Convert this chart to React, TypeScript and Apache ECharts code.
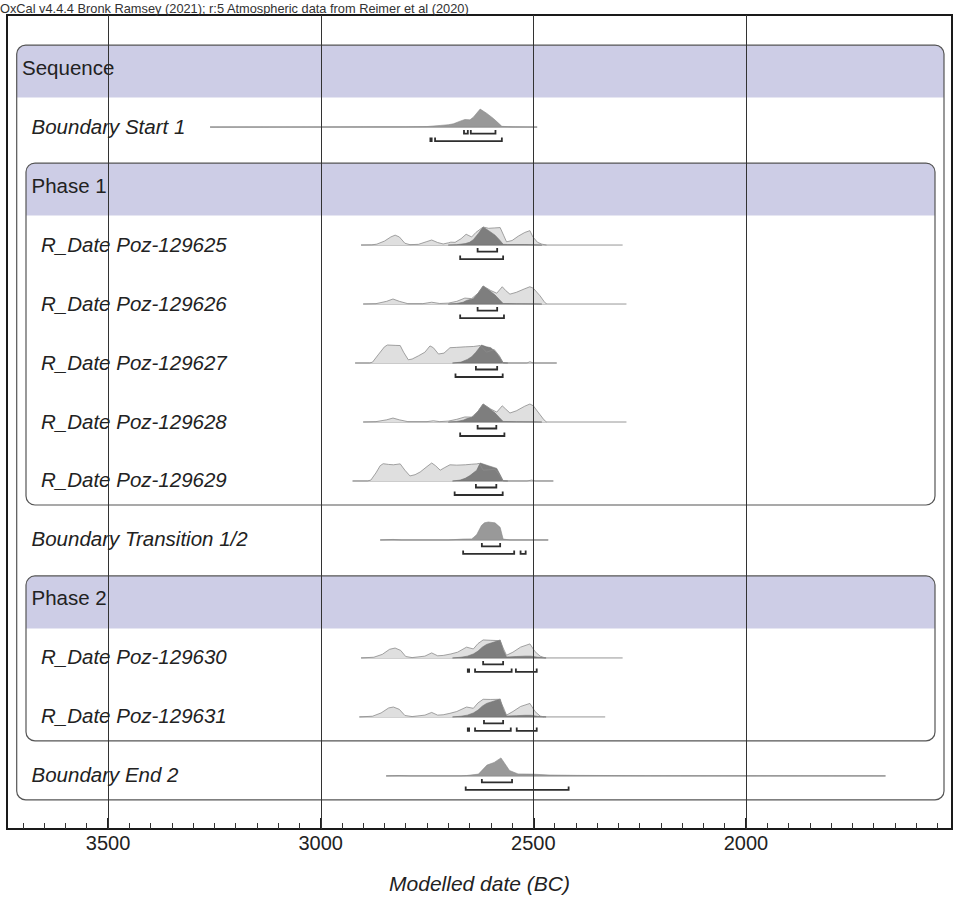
import React, { useEffect, useRef } from "react";
import * as echarts from "echarts";

const headerText = "OxCal v4.4.4 Bronk Ramsey (2021); r:5 Atmospheric data from Reimer et al (2020)";
const axisTitle = "Modelled date (BC)";
const majorTicks = [3500, 3000, 2500, 2000];
const minorTicks: number[] = [];
for (let v = 1550; v <= 3700; v += 50) minorTicks.push(v);

const rowLabels = [
  "Sequence",
  "Boundary Start 1",
  "Phase 1",
  "R_Date Poz-129625",
  "R_Date Poz-129626",
  "R_Date Poz-129627",
  "R_Date Poz-129628",
  "R_Date Poz-129629",
  "Boundary Transition 1/2",
  "Phase 2",
  "R_Date Poz-129630",
  "R_Date Poz-129631",
  "Boundary End 2",
];
const rowDepth = [0, 1, 1, 2, 2, 2, 2, 2, 1, 1, 2, 2, 1];
const rowKind = ["group", "boundary", "group", "date", "date", "date", "date", "date", "boundary", "group", "date", "date", "boundary"];

// group boxes: [first row, last row, depth]
const groupSpans = [
  [0, 12, 0],
  [2, 7, 1],
  [9, 11, 1],
];

// distributions: [year BC, relative height]
const start1Posterior = [[3260,0],[3120,0.006],[3000,0.01],[2900,0.012],[2800,0.015],[2750,0.03],[2719,0.09],[2700,0.13],[2688,0.18],[2672,0.33],[2661,0.42],[2649,0.4],[2641,0.55],[2625,1.0],[2610,0.77],[2594,0.48],[2582,0.22],[2574,0.04],[2550,0.015],[2491,0]];
const poz129625Prior = [[2905,0],[2880,0.01],[2868,0.05],[2850,0.22],[2835,0.45],[2825,0.55],[2815,0.45],[2802,0.1],[2790,0.02],[2770,0.04],[2752,0.18],[2739,0.28],[2725,0.14],[2712,0.06],[2700,0.12],[2694,0.16],[2684,0.15],[2670,0.35],[2658,0.6],[2645,0.45],[2635,0.7],[2618,1.0],[2605,0.93],[2592,0.95],[2578,0.97],[2570,0.55],[2563,0.18],[2550,0.25],[2535,0.5],[2520,0.7],[2508,0.8],[2501,0.45],[2490,0.15],[2480,0.05],[2469,0]];
const poz129625Posterior = [[2700,0],[2680,0.02],[2660,0.08],[2650,0.15],[2641,0.3],[2630,0.62],[2618,1.0],[2605,0.8],[2590,0.55],[2580,0.3],[2571,0.04],[2560,0.03],[2520,0.03],[2500,0.02],[2480,0]];
const poz129626Prior = [[2900,0],[2870,0.02],[2845,0.15],[2830,0.28],[2815,0.15],[2795,0.02],[2760,0.02],[2739,0.1],[2720,0.03],[2700,0.05],[2680,0.15],[2661,0.33],[2645,0.3],[2630,0.6],[2618,1.0],[2600,0.75],[2586,0.6],[2573,0.96],[2565,0.75],[2555,0.55],[2540,0.65],[2520,0.85],[2508,0.96],[2500,0.88],[2484,0.45],[2475,0.15],[2469,0]];
const poz129626Posterior = [[2700,0],[2680,0.03],[2665,0.1],[2657,0.2],[2641,0.3],[2630,0.6],[2618,1.0],[2605,0.78],[2590,0.5],[2580,0.25],[2571,0.03],[2540,0.02],[2500,0.01],[2480,0]];
const poz129627Prior = [[2919,0],[2885,0],[2878,0.05],[2865,0.45],[2850,0.9],[2843,1.0],[2825,0.98],[2813,0.97],[2805,0.6],[2794,0.18],[2785,0.22],[2770,0.4],[2755,0.6],[2743,0.95],[2735,0.85],[2723,0.5],[2710,0.55],[2696,0.85],[2680,0.87],[2660,0.9],[2640,0.92],[2625,0.97],[2610,0.6],[2592,0.75],[2580,0.4],[2571,0],[2515,0],[2508,0.07],[2500,0],[2445,0]];
const poz129627Posterior = [[2690,0],[2670,0.05],[2655,0.2],[2645,0.35],[2635,0.6],[2622,1.0],[2610,0.9],[2600,0.85],[2590,0.65],[2580,0.35],[2571,0.02],[2560,0]];
const poz129628Prior = [[2900,0],[2870,0.02],[2845,0.12],[2830,0.22],[2815,0.12],[2795,0.02],[2750,0.02],[2735,0.07],[2720,0.02],[2700,0.05],[2680,0.15],[2661,0.28],[2645,0.27],[2630,0.6],[2618,1.0],[2600,0.72],[2586,0.55],[2573,0.9],[2565,0.72],[2555,0.5],[2540,0.62],[2520,0.88],[2508,1.0],[2500,0.9],[2484,0.4],[2475,0.12],[2469,0]];
const poz129628Posterior = [[2700,0],[2680,0.03],[2665,0.1],[2657,0.18],[2641,0.3],[2630,0.6],[2618,1.0],[2605,0.78],[2590,0.5],[2580,0.25],[2571,0.03],[2540,0.02],[2500,0.01],[2480,0]];
const poz129629Prior = [[2925,0],[2890,0],[2882,0.05],[2870,0.45],[2860,0.85],[2853,0.96],[2840,0.92],[2829,0.9],[2813,0.95],[2802,0.6],[2790,0.28],[2778,0.35],[2766,0.5],[2750,0.8],[2739,1.0],[2730,0.85],[2719,0.6],[2708,0.75],[2696,0.9],[2680,0.88],[2660,0.9],[2645,0.93],[2633,0.95],[2627,0.98],[2618,0.6],[2605,0.62],[2590,0.65],[2580,0.35],[2571,0],[2515,0],[2504,0.05],[2495,0],[2453,0]];
const poz129629Posterior = [[2690,0],[2672,0.05],[2660,0.15],[2649,0.3],[2633,0.6],[2625,1.0],[2606,0.85],[2586,0.7],[2578,0.35],[2571,0.02],[2560,0]];
const transitionPosterior = [[2860,0],[2830,0.03],[2810,0],[2700,0],[2665,0.05],[2645,0.06],[2640,0.15],[2633,0.3],[2622,0.8],[2615,0.95],[2606,1.0],[2590,0.95],[2578,0.7],[2571,0.05],[2555,0],[2465,0]];
const poz129630Prior = [[2905,0],[2875,0.04],[2855,0.2],[2838,0.48],[2825,0.55],[2812,0.42],[2800,0.08],[2785,0.02],[2755,0.1],[2739,0.28],[2725,0.12],[2712,0.14],[2694,0.22],[2678,0.32],[2657,0.6],[2641,0.5],[2630,0.8],[2618,1.0],[2600,0.98],[2578,0.96],[2570,0.5],[2563,0.15],[2548,0.32],[2530,0.6],[2508,0.78],[2496,0.35],[2484,0.1],[2472,0]];
const poz129630Posterior = [[2690,0],[2670,0.04],[2655,0.1],[2641,0.22],[2630,0.38],[2620,0.6],[2610,0.75],[2590,0.9],[2578,1.0],[2570,0.4],[2563,0.05],[2540,0.08],[2520,0.1],[2505,0.1],[2490,0.04],[2470,0]];
const poz129631Prior = [[2909,0],[2878,0.04],[2858,0.22],[2840,0.5],[2829,0.55],[2815,0.42],[2802,0.08],[2785,0.02],[2755,0.1],[2739,0.25],[2725,0.1],[2712,0.12],[2696,0.2],[2680,0.3],[2657,0.55],[2641,0.48],[2630,0.78],[2618,0.98],[2600,0.97],[2580,0.98],[2570,0.5],[2563,0.1],[2548,0.3],[2530,0.58],[2508,0.75],[2496,0.3],[2484,0.05],[2475,0]];
const poz129631Posterior = [[2690,0],[2670,0.04],[2655,0.1],[2641,0.22],[2630,0.38],[2620,0.6],[2610,0.75],[2590,0.9],[2578,1.0],[2570,0.4],[2563,0.05],[2540,0.07],[2520,0.09],[2505,0.09],[2490,0.03],[2470,0]];
const end2Posterior = [[2846,0],[2815,0.02],[2790,0],[2670,0],[2657,0.02],[2629,0.1],[2609,0.6],[2592,0.75],[2576,1.0],[2556,0.3],[2536,0.11],[2503,0.1],[2463,0.05],[2398,0.03],[2236,0.01],[1672,0]];

// baseline extents [from, to]
const start1Span = [3260, 2491];
const poz129625Span = [2905, 2290];
const poz129626Span = [2900, 2281];
const poz129627Span = [2919, 2445];
const poz129628Span = [2900, 2281];
const poz129629Span = [2925, 2453];
const transitionSpan = [2860, 2465];
const poz129630Span = [2905, 2290];
const poz129631Span = [2909, 2331];
const end2Span = [2846, 1672];

// highest posterior density ranges
const start1Range68 = [[2663, 2654], [2647, 2589]];
const start1Range95 = [[2742, 2739], [2731, 2574]];
const poz129625Range68 = [[2631, 2585]];
const poz129625Range95 = [[2672, 2571]];
const poz129626Range68 = [[2631, 2585]];
const poz129626Range95 = [[2672, 2569]];
const poz129627Range68 = [[2635, 2585]];
const poz129627Range95 = [[2683, 2572]];
const poz129628Range68 = [[2631, 2587]];
const poz129628Range95 = [[2672, 2568]];
const poz129629Range68 = [[2635, 2587]];
const poz129629Range95 = [[2685, 2572]];
const transitionRange68 = [[2621, 2578]];
const transitionRange95 = [[2665, 2545], [2530, 2518]];
const poz129630Range68 = [[2618, 2571]];
const poz129630Range95 = [[2654, 2651], [2637, 2551], [2541, 2492]];
const poz129631Range68 = [[2616, 2571]];
const poz129631Range95 = [[2654, 2651], [2637, 2553], [2539, 2492]];
const end2Range68 = [[2621, 2550]];
const end2Range95 = [[2659, 2417]];

type Dist = { row: number; prior: number[][] | null; posterior: number[][]; span: number[]; r68: number[][]; r95: number[][] };
const dists: Dist[] = [
  { row: 1, prior: null, posterior: start1Posterior, span: start1Span, r68: start1Range68, r95: start1Range95 },
  { row: 3, prior: poz129625Prior, posterior: poz129625Posterior, span: poz129625Span, r68: poz129625Range68, r95: poz129625Range95 },
  { row: 4, prior: poz129626Prior, posterior: poz129626Posterior, span: poz129626Span, r68: poz129626Range68, r95: poz129626Range95 },
  { row: 5, prior: poz129627Prior, posterior: poz129627Posterior, span: poz129627Span, r68: poz129627Range68, r95: poz129627Range95 },
  { row: 6, prior: poz129628Prior, posterior: poz129628Posterior, span: poz129628Span, r68: poz129628Range68, r95: poz129628Range95 },
  { row: 7, prior: poz129629Prior, posterior: poz129629Posterior, span: poz129629Span, r68: poz129629Range68, r95: poz129629Range95 },
  { row: 8, prior: null, posterior: transitionPosterior, span: transitionSpan, r68: transitionRange68, r95: transitionRange95 },
  { row: 10, prior: poz129630Prior, posterior: poz129630Posterior, span: poz129630Span, r68: poz129630Range68, r95: poz129630Range95 },
  { row: 11, prior: poz129631Prior, posterior: poz129631Posterior, span: poz129631Span, r68: poz129631Range68, r95: poz129631Range95 },
  { row: 12, prior: null, posterior: end2Posterior, span: end2Span, r68: end2Range68, r95: end2Range95 },
];

const FONT = '"Liberation Sans", Arial, Helvetica, sans-serif';
const PEAK = 18;

export default function App() {
  const ref = useRef<HTMLDivElement>(null);
  useEffect(() => {
    if (!ref.current) return;
    const chart = echarts.init(ref.current, null, { renderer: "svg" });

    const boxSeries = {
      type: "custom",
      z: 1,
      silent: true,
      data: groupSpans.map((g) => [g[0], g[1], g[2]]),
      renderItem: (params: any, api: any) => {
        const cs = params.coordSys;
        const s = api.value(0), e = api.value(1), d = api.value(2);
        const left = cs.x + (d === 0 ? 9.7 : 19);
        const right = cs.x + cs.width - (d === 0 ? 8 : 17);
        const yS = api.coord([3000, s])[1];
        const yE = api.coord([3000, e])[1];
        const top = yS - 23;
        const bottom = yE + 24;
        const hb = yS + 29.5;
        const r = 9;
        return {
          type: "group",
          children: [
            { type: "rect", shape: { x: left, y: top, width: right - left, height: bottom - top, r }, style: { fill: "#ffffff" } },
            { type: "rect", shape: { x: left, y: top, width: right - left, height: hb - top, r: [r, r, 0, 0] }, style: { fill: "#cdcde6" } },
            { type: "rect", shape: { x: left, y: top, width: right - left, height: bottom - top, r }, style: { fill: "none", stroke: "#555", lineWidth: 1.2 } },
          ],
        };
      },
    };

    const distSeries = {
      type: "custom",
      z: 2,
      silent: true,
      data: dists.map((d, i) => [d.span[0], d.row, i]),
      renderItem: (params: any, api: any) => {
        const d = dists[api.value(2)];
        const row = d.row;
        const toPts = (arr: number[][]) =>
          arr.map(([yr, h]) => {
            const p = api.coord([yr, row]);
            return [p[0], p[1] - h * PEAK];
          });
        const base0 = api.coord([d.span[0], row]);
        const base1 = api.coord([d.span[1], row]);
        const children: any[] = [];
        children.push({ type: "line", shape: { x1: base0[0], y1: base0[1], x2: base1[0], y2: base1[1] }, style: { stroke: "#8a8a8a", lineWidth: 0.9 } });
        if (d.prior) {
          children.push({ type: "polygon", shape: { points: toPts(d.prior) }, style: { fill: "#dfdfdf", stroke: "none" } });
        }
        const isBoundary = d.prior === null;
        children.push({ type: "polygon", shape: { points: toPts(d.posterior) }, style: { fill: isBoundary ? "#999999" : "#7e7e7e", stroke: isBoundary ? "#8a8a8a" : "#6e6e6e", lineWidth: 0.6 } });
        if (d.prior) {
          children.push({ type: "polyline", shape: { points: toPts(d.prior) }, style: { fill: "none", stroke: "#8c8c8c", lineWidth: 0.8 } });
        }
        const bracket = (ranges: number[][], off: number) => {
          ranges.forEach(([a, b]) => {
            const pa = api.coord([a, row]);
            const pb = api.coord([b, row]);
            const y = pa[1] + off;
            children.push({
              type: "polyline",
              shape: { points: [[pa[0], y - 3.5], [pa[0], y], [pb[0], y], [pb[0], y - 3.5]] },
              style: { fill: "none", stroke: "#2e2e2e", lineWidth: 1.8 },
            });
          });
        };
        bracket(d.r68, 6.5);
        bracket(d.r95, 14);
        return { type: "group", children };
      },
    };

    const gridLineSeries = {
      type: "custom",
      z: 3,
      silent: true,
      data: majorTicks.map((v) => [v, 0]),
      renderItem: (params: any, api: any) => {
        const cs = params.coordSys;
        const x = Math.round(api.coord([api.value(0), 0])[0]) + 0.5;
        return { type: "line", shape: { x1: x, y1: cs.y, x2: x, y2: cs.y + cs.height }, style: { stroke: "#333", lineWidth: 1 } };
      },
    };

    const labelSeries = {
      type: "custom",
      z: 4,
      silent: true,
      data: rowLabels.map((_, i) => [3000, i]),
      renderItem: (params: any, api: any) => {
        const cs = params.coordSys;
        const i = api.value(1);
        const isGroup = rowKind[i] === "group";
        const x = cs.x + 15 + 9.5 * rowDepth[i];
        const y = api.coord([3000, i])[1] - 1;
        return {
          type: "text",
          x,
          y,
          style: {
            text: rowLabels[i],
            fill: "#222",
            font: (isGroup ? "normal " : "italic ") + "20.5px " + FONT,
            align: "left",
            verticalAlign: "middle",
            textAlign: "left",
            textVerticalAlign: "middle",
          },
        };
      },
    };

    const option: any = {
      animation: false,
      backgroundColor: "#ffffff",
      title: {
        text: headerText,
        left: 0,
        top: 2,
        padding: 0,
        textStyle: { fontSize: 12.8, fontWeight: "normal", color: "#333", fontFamily: FONT },
      },
      grid: { left: 7, right: 2, top: 15, bottom: 70, show: true, borderColor: "#1a1a1a", borderWidth: 2, backgroundColor: "transparent" },
      xAxis: [
        {
          type: "value",
          min: 1515.6,
          max: 3737.5,
          inverse: true,
          position: "bottom",
          axisLine: { show: true, onZero: false, lineStyle: { color: "#1a1a1a", width: 2 } },
          axisTick: { show: true, inside: true, length: 6, customValues: minorTicks, lineStyle: { color: "#333", width: 1 } },
          axisLabel: { show: false },
          splitLine: { show: false },
        },
        {
          type: "value",
          min: 1515.6,
          max: 3737.5,
          inverse: true,
          position: "bottom",
          offset: 0,
          axisLine: { show: false, onZero: false },
          axisTick: { show: true, inside: true, length: 11, customValues: majorTicks, lineStyle: { color: "#222", width: 2 } },
          axisLabel: { show: true, customValues: majorTicks, fontSize: 20, color: "#222", margin: 4, fontFamily: FONT, formatter: (v: number) => String(v) },
          splitLine: { show: false },
          name: axisTitle,
          nameLocation: "middle",
          nameGap: 44,
          nameTextStyle: { fontSize: 21, fontStyle: "italic", color: "#222", fontFamily: FONT },
        },
      ],
      yAxis: { type: "value", min: -0.9, max: 12.9, inverse: true, show: false },
      series: [boxSeries, distSeries, gridLineSeries, labelSeries],
    };
    chart.setOption(option);
    return () => chart.dispose();
  }, []);
  return <div ref={ref} style={{ position: "absolute", left: 0, top: 0, width: 954, height: 899 }} />;
}
